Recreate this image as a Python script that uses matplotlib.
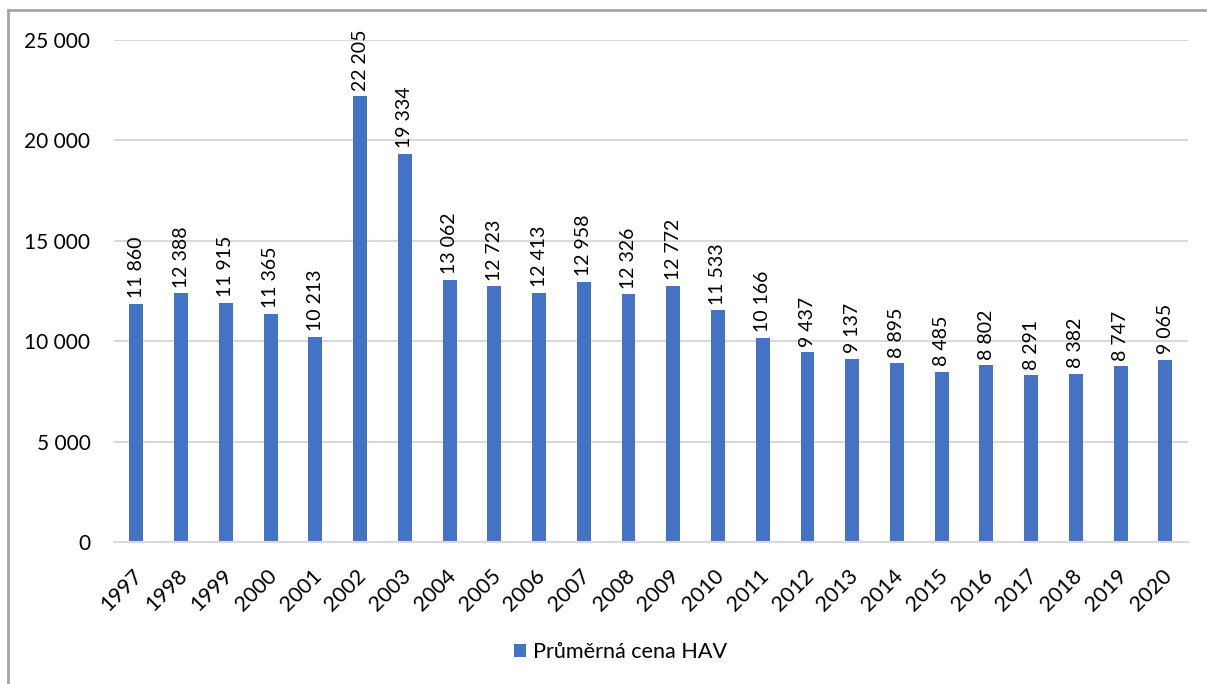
import matplotlib.pyplot as plt
from matplotlib.lines import Line2D
from matplotlib.transforms import ScaledTranslation

years = [str(y) for y in range(1997, 2021)]
prices = [11860, 12388, 11915, 11365, 10213, 22205, 19334, 13062, 12723, 12413,
          12958, 12326, 12772, 11533, 10166, 9437, 9137, 8895, 8485, 8802,
          8291, 8382, 8747, 9065]
series_name = "Průměrná cena HAV"

BLUE = "#4472C4"


def fmt(v):
    return f"{v:,.0f}".replace(",", " ")


def main():
    plt.rcParams['font.family'] = ['Lato', 'DejaVu Sans']
    fig = plt.figure(figsize=(12.07, 6.84), dpi=100)
    ax = fig.add_axes([0.0945, 0.2076, 0.8895, 0.734])

    x = range(len(years))
    bars = ax.bar(x, prices, width=0.31, color=BLUE, label=series_name, zorder=2)

    for b, v in zip(bars, prices):
        ax.annotate(fmt(v), (b.get_x() + b.get_width() / 2, v),
                    xytext=(0, 4), textcoords="offset points",
                    rotation=90, ha="center", va="bottom", fontsize=14)

    ax.set_ylim(0, 25000)
    ax.set_xlim(-0.5, len(years) - 0.5)
    ax.set_yticks(range(0, 25001, 5000))
    ax.set_yticklabels([fmt(v) for v in range(0, 25001, 5000)], fontsize=15)
    ax.set_xticks(list(x))
    ax.set_xticklabels(years, rotation=45, ha="right", rotation_mode="anchor", fontsize=15.5)
    ax.tick_params(axis="both", length=0)
    ax.tick_params(axis="y", pad=17)
    ax.tick_params(axis="x", pad=17)
    shift = ScaledTranslation(-4 / 100, 0, fig.dpi_scale_trans)
    for lbl in ax.get_xticklabels():
        lbl.set_transform(lbl.get_transform() + shift)

    ax.grid(axis="y", color="#D9D9D9", linewidth=1.5, zorder=0)
    for s in ["top", "right", "left"]:
        ax.spines[s].set_visible(False)
    ax.spines["bottom"].set_color("#D9D9D9")
    ax.spines["bottom"].set_linewidth(1.5)

    ax.legend(loc="center", bbox_to_anchor=(0.514, 0.047), bbox_transform=fig.transFigure,
              frameon=False, fontsize=15.6, handlelength=0.55, handleheight=0.55,
              handletextpad=0.3)

    # outer frame (left and top edges visible)
    fig.add_artist(Line2D([8 / 1207, 8 / 1207], [0, 1 - 10 / 684], color="#A6A6A6",
                          linewidth=2, transform=fig.transFigure))
    fig.add_artist(Line2D([8 / 1207, 1], [1 - 10 / 684, 1 - 10 / 684], color="#A6A6A6",
                          linewidth=2, transform=fig.transFigure))

    fig.savefig("out.png", dpi=100)


if __name__ == "__main__":
    main()
